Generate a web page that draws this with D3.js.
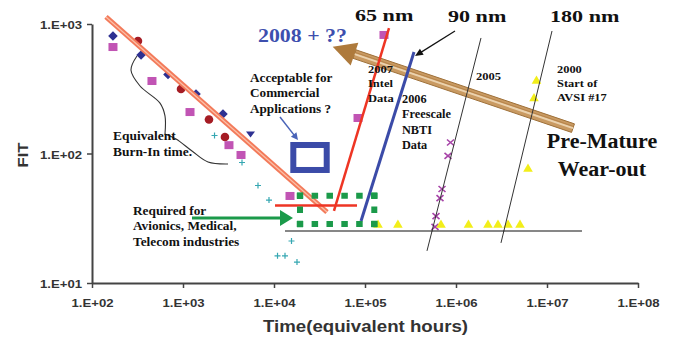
<!DOCTYPE html>
<html>
<head>
<meta charset="utf-8">
<script src="https://cdn.jsdelivr.net/npm/d3@7"></script>
<style>body{margin:0;background:#fff}</style>
</head>
<body>
<div id="vis"></div>
<script>
// axis ticks
const xTicks = [1e2, 1e3, 1e4, 1e5, 1e6, 1e7, 1e8];
const yTicks = [1e1, 1e2, 1e3];

// data series, [hours, FIT]
const diamonds = [[170, 808], [346, 576], [684, 407], [1390, 288], [2750, 202]];
const downTriangles = [[5520, 140]];
const circles = [[320, 739], [951, 315], [1930, 183], [2890, 134]];
const squares = [[170, 664], [456, 363], [1194, 209], [3200, 116], [4340, 97.4], [14990, 47], [83800, 188], [161700, 823]];
const pluses = [[2220, 137.7], [4450, 85.2], [6670, 56.6], [8810, 43.7], [15570, 21.1], [10930, 16.2], [13210, 16.2], [17890, 14.5]];
const crosses = [[870000, 121.6], [817000, 95.7], [702000, 53.2], [667000, 45.3], [603000, 32.9], [588000, 27.1]];
const triangles = [[139000, 28.6], [230000, 28.6], [684000, 28.6], [1372000, 28.6], [2247000, 28.6], [2893000, 28.6],
                   [3727000, 28.6], [5050000, 28.6], [6183000, 77.3], [7197000, 270.7], [7664000, 369.6]];

// trend lines and annotation shapes, [hours, FIT]
const burnInLine = [[142.5, 1133], [38230, 35.3]];
const intel65Line = [[183500, 931], [45600, 36]];
const intel65Level = [[10260, 39.7], [81700, 39.7]];
const nbtiLine = [[345600, 608], [90400, 30.1]];
const trend90Line = [[1882000, 780], [480000, 17.7]];
const trend180Line = [[11350000, 883], [3122000, 20.4]];
const requiredLevel = [[13210, 25.2], [24240000, 25.2]];
const targetBox = [[19310, 47.2], [126500, 28.6]];
const commercialBox = [[16300, 116.3], [37950, 74.6]];
const requiredArrow = [[1256, 31.8], [16180, 31.8]];
const commercialArrow = [[11640, 191.4], [18350, 127.1]];
const nm90Arrow = [[975000, 883], [354400, 566]];
const futureArrow = [[19310000, 157], [44170, 668]];
const braceTop = [[312, 566], [268, 441], [337, 332], [559, 245], [634, 195], [634, 141.5]];
const braceBottom = [[634, 141.5], [838, 129.4], [1256, 104.5], [1883, 86], [3123, 83]];

const width = 673, height = 341;

const svg = d3.select("#vis").append("svg")
    .attr("width", width)
    .attr("height", height);

const x = d3.scaleLog().domain([1e2, 1e8]).range([92, 638]);
const y = d3.scaleLog().domain([1e1, 1e3]).range([283, 24]);
const fmt = d => "1.E+" + String(Math.round(Math.log10(d))).padStart(2, "0");
const line = d3.line().x(d => x(d[0])).y(d => y(d[1]));

// axes
const xAxis = svg.append("g")
    .attr("transform", "translate(0,283)")
    .call(d3.axisBottom(x).tickValues(xTicks).tickFormat(fmt).tickSize(5).tickSizeOuter(0));
const yAxis = svg.append("g")
    .attr("transform", "translate(92,0)")
    .call(d3.axisLeft(y).tickValues(yTicks).tickFormat(fmt).tickSize(5).tickSizeOuter(0));

[xAxis, yAxis].forEach(a => {
    a.select(".domain").attr("stroke", "#444").attr("stroke-width", 2);
    a.selectAll(".tick line").attr("stroke", "#444").attr("stroke-width", 1.5);
    a.selectAll(".tick text")
        .attr("fill", "#333")
        .attr("font-family", "'Liberation Sans', Arial, sans-serif")
        .attr("font-weight", "bold")
        .attr("font-size", 10)
        .attr("textLength", 42)
        .attr("lengthAdjust", "spacingAndGlyphs");
});
xAxis.selectAll(".tick text").attr("y", 17);
yAxis.selectAll(".tick text").attr("x", -10).attr("dy", "0.45em");

svg.append("text")
    .attr("x", 365.5).attr("y", 332)
    .attr("text-anchor", "middle")
    .attr("font-family", "'Liberation Sans', Arial, sans-serif")
    .attr("font-weight", "bold").attr("font-size", 16.5)
    .attr("fill", "#333")
    .attr("textLength", 205).attr("lengthAdjust", "spacingAndGlyphs")
    .text("Time(equivalent hours)");

svg.append("text")
    .attr("transform", "translate(28,155) rotate(-90)")
    .attr("text-anchor", "middle")
    .attr("font-family", "'Liberation Sans', Arial, sans-serif")
    .attr("font-weight", "bold").attr("font-size", 15)
    .attr("fill", "#333")
    .attr("textLength", 25).attr("lengthAdjust", "spacingAndGlyphs")
    .text("FIT");

// helper: filled arrow head at end of a pixel segment
function arrowHead(x1, y1, x2, y2, len, hw, color) {
    const dx = x2 - x1, dy = y2 - y1, l = Math.hypot(dx, dy);
    const ux = dx / l, uy = dy / l, nx = -uy, ny = ux;
    const bx = x2 - ux * len, by = y2 - uy * len;
    svg.append("path")
        .attr("d", `M${x2},${y2}L${bx + nx * hw},${by + ny * hw}L${bx - nx * hw},${by - ny * hw}Z`)
        .attr("fill", color);
}

// big brown arrow
{
    const x1 = x(futureArrow[0][0]), y1 = y(futureArrow[0][1]);
    const x2 = x(futureArrow[1][0]), y2 = y(futureArrow[1][1]);
    const dx = x2 - x1, dy = y2 - y1, l = Math.hypot(dx, dy);
    const ux = dx / l, uy = dy / l, nx = -uy, ny = ux;
    const hl = 23, hw = 12, sw = 4.5;
    const bx = x2 - ux * hl, by = y2 - uy * hl;
    svg.append("path")
        .attr("d", `M${x1 + nx * sw},${y1 + ny * sw}L${bx + nx * sw},${by + ny * sw}L${bx - nx * sw},${by - ny * sw}L${x1 - nx * sw},${y1 - ny * sw}Z`)
        .attr("fill", "#C99A62").attr("stroke", "#9E7038").attr("stroke-width", 1);
    svg.append("line")
        .attr("x1", x1).attr("y1", y1).attr("x2", bx).attr("y2", by)
        .attr("stroke", "#EBD2AE").attr("stroke-width", 2);
    svg.append("line")
        .attr("x1", x1 + nx * 1.8).attr("y1", y1 + ny * 1.8).attr("x2", bx + nx * 1.8).attr("y2", by + ny * 1.8)
        .attr("stroke", "#B07E44").attr("stroke-width", 0.8);
    arrowHead(x1, y1, x2, y2, hl, hw, "#AE7A3C");
}

// data markers
svg.append("g").selectAll("path").data(diamonds).join("path")
    .attr("transform", d => `translate(${x(d[0])},${y(d[1])})`)
    .attr("d", "M0,-4.8L4.8,0L0,4.8L-4.8,0Z")
    .attr("fill", "#2E3192");
svg.append("g").selectAll("path").data(downTriangles).join("path")
    .attr("transform", d => `translate(${x(d[0])},${y(d[1])})`)
    .attr("d", "M-4.5,-3L4.5,-3L0,3Z")
    .attr("fill", "#2E3192");
svg.append("g").selectAll("circle").data(circles).join("circle")
    .attr("cx", d => x(d[0])).attr("cy", d => y(d[1])).attr("r", 4.3)
    .attr("fill", "#A51C24");
svg.append("g").selectAll("rect").data(squares).join("rect")
    .attr("x", d => x(d[0]) - 4.5).attr("y", d => y(d[1]) - 4)
    .attr("width", 9).attr("height", 8)
    .attr("fill", "#C154B4");
svg.append("g").selectAll("path").data(pluses).join("path")
    .attr("transform", d => `translate(${x(d[0])},${y(d[1])})`)
    .attr("d", "M-3,0H3M0,-3V3")
    .attr("stroke", "#35A7B2").attr("stroke-width", 1.2);
svg.append("g").selectAll("path").data(crosses).join("path")
    .attr("transform", d => `translate(${x(d[0])},${y(d[1])})`)
    .attr("d", "M-3.5,-3L3.5,3M-3.5,3L3.5,-3")
    .attr("stroke", "#A743A8").attr("stroke-width", 1.6).attr("fill", "none");
svg.append("g").selectAll("path").data(triangles).join("path")
    .attr("transform", d => `translate(${x(d[0])},${y(d[1])})`)
    .attr("d", "M0,-4.5L4.8,3.8L-4.8,3.8Z")
    .attr("fill", "#F2EE1A");

// brace
const brace = d3.line().x(d => x(d[0])).y(d => y(d[1])).curve(d3.curveCatmullRom);
[braceTop, braceBottom].forEach(b => svg.append("path").attr("d", brace(b))
    .attr("fill", "none").attr("stroke", "#333").attr("stroke-width", 1.1));

// burn-in line (double orange)
svg.append("path").attr("d", line(burnInLine)).attr("stroke", "#F37A5A").attr("stroke-width", 5).attr("fill", "none");
svg.append("path").attr("d", line(burnInLine)).attr("stroke", "#FBC0A8").attr("stroke-width", 1.2).attr("fill", "none");

// technology lines
svg.append("path").attr("d", line(intel65Line)).attr("stroke", "#EE3524").attr("stroke-width", 2.5).attr("fill", "none");
svg.append("path").attr("d", line(intel65Level)).attr("stroke", "#EE3524").attr("stroke-width", 2.5).attr("fill", "none");
svg.append("path").attr("d", line(nbtiLine)).attr("stroke", "#3B4BA8").attr("stroke-width", 3).attr("fill", "none");
svg.append("path").attr("d", line(trend90Line)).attr("stroke", "#333").attr("stroke-width", 1).attr("fill", "none");
svg.append("path").attr("d", line(trend180Line)).attr("stroke", "#333").attr("stroke-width", 1).attr("fill", "none");
svg.append("path").attr("d", line(requiredLevel)).attr("stroke", "#111").attr("stroke-width", 1.2).attr("fill", "none");

// green dotted box: each side drawn so the dots land on the corners
{
    const x0 = x(targetBox[0][0]), y0 = y(targetBox[0][1]);
    const x1 = x(targetBox[1][0]), y1 = y(targetBox[1][1]);
    const dot = 6.5, step = 14.5;
    const sides = [[x0, y0, x1, y0], [x0, y1, x1, y1], [x0, y0, x0, y1], [x1, y0, x1, y1]];
    sides.forEach(([ax, ay, bx, by]) => {
        const L = Math.hypot(bx - ax, by - ay);
        const n = Math.max(1, Math.round(L / step));
        const s = L / n;
        const ux = (bx - ax) / L, uy = (by - ay) / L;
        svg.append("line")
            .attr("x1", ax - ux * dot / 2).attr("y1", ay - uy * dot / 2)
            .attr("x2", bx + ux * dot / 2).attr("y2", by + uy * dot / 2)
            .attr("stroke", "#1B9A4A").attr("stroke-width", 6)
            .attr("stroke-dasharray", `${dot},${s - dot}`);
    });
}
svg.append("rect")
    .attr("x", x(commercialBox[0][0])).attr("y", y(commercialBox[0][1]))
    .attr("width", x(commercialBox[1][0]) - x(commercialBox[0][0]))
    .attr("height", y(commercialBox[1][1]) - y(commercialBox[0][1]))
    .attr("fill", "none").attr("stroke", "#3B4BA8").attr("stroke-width", 6);

// arrows
function arrow(pts, color, w, len, hw) {
    const x1 = x(pts[0][0]), y1 = y(pts[0][1]), x2 = x(pts[1][0]), y2 = y(pts[1][1]);
    const l = Math.hypot(x2 - x1, y2 - y1);
    const ex = x2 - (x2 - x1) / l * len * 0.8, ey = y2 - (y2 - y1) / l * len * 0.8;
    svg.append("line").attr("x1", x1).attr("y1", y1).attr("x2", ex).attr("y2", ey)
        .attr("stroke", color).attr("stroke-width", w);
    arrowHead(x1, y1, x2, y2, len, hw, color);
}
arrow(requiredArrow, "#1B9A4A", 3, 13, 8);
arrow(commercialArrow, "#4A64B8", 1.5, 7, 3.5);
arrow(nm90Arrow, "#111", 1.2, 8, 3.5);

// annotation text
function note(px, py, lines, o) {
    const t = svg.append("text")
        .attr("transform", `translate(${px},${py}) scale(${o.sx || 1},1)`)
        .attr("font-family", "'Liberation Serif', 'Times New Roman', serif")
        .attr("font-weight", "bold")
        .attr("font-size", o.size)
        .attr("fill", o.color || "#111")
        .attr("text-anchor", o.anchor || "start");
    lines.forEach((s, i) => t.append("tspan").attr("x", 0).attr("y", i * (o.lh || 0)).text(s));
}
note(355, 21, ["65 nm"], {size: 17, sx: 1.3});
note(448, 22, ["90 nm"], {size: 17, sx: 1.3});
note(550, 22, ["180 nm"], {size: 17, sx: 1.3});
note(258, 42, ["2008 + ??"], {size: 19, sx: 1.15, color: "#3D4FAE"});
note(250, 82, ["Acceptable for", "Commercial", "Applications ?"], {size: 12, sx: 1.1, lh: 15.5});
note(368, 72.5, ["2007", "Intel", "Data"], {size: 11, sx: 1.14, lh: 14.6});
note(402, 103, ["2006", "Freescale", "NBTI", "Data"], {size: 11.5, sx: 1.07, lh: 15.3});
note(476, 80, ["2005"], {size: 11, sx: 1.14});
note(557, 73, ["2000", "Start of", "AVSI #17"], {size: 11, sx: 1.13, lh: 14});
note(602, 148, ["Pre-Mature", "Wear-out"], {size: 20, sx: 1.1, lh: 28.5, anchor: "middle"});
note(113, 140, ["Equivalent", "Burn-In time."], {size: 12, sx: 1.12, lh: 16});
note(133, 215, ["Required for", "Avionics, Medical,", "Telecom industries"], {size: 12, sx: 1.11, lh: 15.5});
</script>
</body>
</html>
